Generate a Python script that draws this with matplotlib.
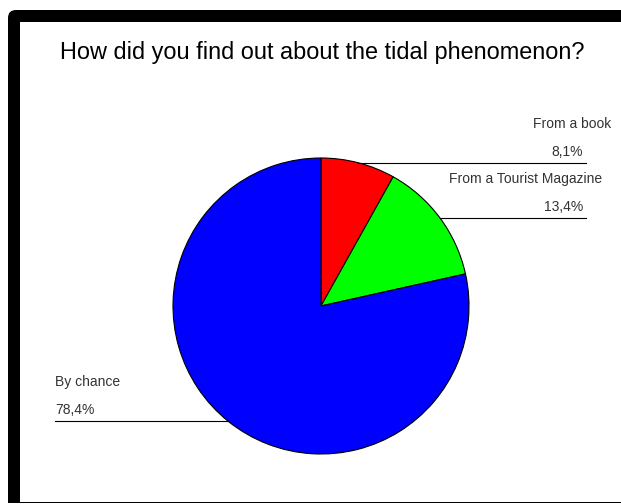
import matplotlib.pyplot as plt
import numpy as np
from matplotlib.patches import FancyBboxPatch, Rectangle

plt.rcParams['font.family'] = ['Liberation Sans', 'DejaVu Sans']

# survey answers, clockwise from 12 o'clock
labels = ['From a book', 'From a Tourist Magazine', 'By chance']
shares = [8.1, 13.4, 78.4]
colors = ['#ff0000', '#00ff00', '#0000ff']

W, H = 621, 504
fig = plt.figure(figsize=(W / 100, H / 100), dpi=100)
ax = fig.add_axes([0, 0, 1, 1])
ax.set_xlim(0, W)
ax.set_ylim(0, H)
ax.set_aspect('equal')
ax.axis('off')

# black frame, thick on left/top, thin on bottom
ax.add_patch(FancyBboxPatch((8, -20), 700, H - 10 + 20, boxstyle='round,pad=0,rounding_size=8',
                            facecolor='black', edgecolor='none', zorder=0))
ax.add_patch(Rectangle((20, 2), 700, H - 22 - 2, facecolor='white', edgecolor='none', zorder=0.5))
ax.add_patch(Rectangle((0, 0), W, 1.5, facecolor='white', edgecolor='none', zorder=0.6))

ax.text(322, H - 53, 'How did you find out about the tidal phenomenon?', fontsize=16.9,
        ha='center', va='center', color='black')

cx, cy, r = 321, H - 306, 148
wedges, _ = ax.pie(shares, colors=colors, startangle=90, counterclock=False,
                   center=(cx, cy), radius=r, frame=True,
                   wedgeprops=dict(edgecolor='black', linewidth=0.8))
ax.set_xlim(0, W)
ax.set_ylim(0, H)
ax.axis('off')

# label layout: (text anchor x, value anchor x, alignment, line end x)
layout = [
    (611, 583, 'right', 586),
    (602, 583, 'right', 586),
    (55, 55, 'left', 55),
]
for w, lab, val, (tx, vx, ha, lx) in zip(wedges, labels, shares, layout):
    mid = np.deg2rad((w.theta1 + w.theta2) / 2)
    px, py = cx + r * np.cos(mid), cy + r * np.sin(mid)
    ax.plot([px, lx], [py, py], color='black', linewidth=0.8, zorder=3)
    ax.text(tx, py + 39, lab, fontsize=10, ha=ha, va='center', color='#333333')
    ax.text(vx, py + 11, f'{val:.1f}%'.replace('.', ','), fontsize=10, ha=ha,
            va='center', color='#333333')

fig.savefig('out.png', dpi=100)
